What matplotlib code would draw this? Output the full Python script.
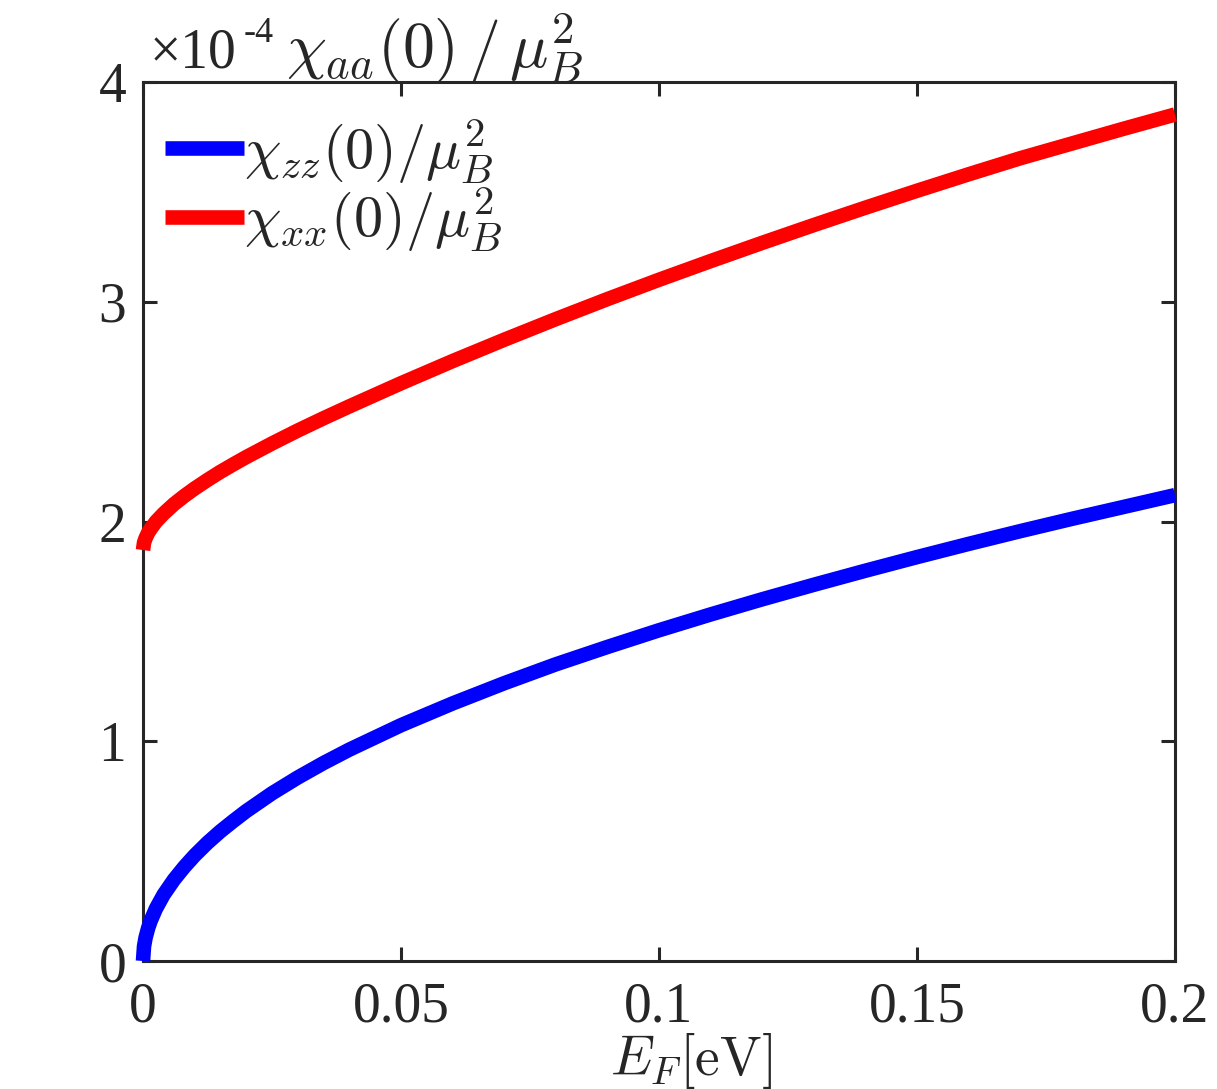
import numpy as np
import matplotlib
matplotlib.use('Agg')
from matplotlib import pyplot as plt

plt.rcParams['mathtext.fontset'] = 'cm'
plt.rcParams['font.family'] = ['Liberation Serif', 'DejaVu Serif']

# values, in units of 1e-4
ef = [0, 0.0002, 0.0005, 0.001, 0.0015, 0.0025, 0.004, 0.006, 0.008, 0.01,
      0.0125, 0.015, 0.0175, 0.02, 0.025, 0.03, 0.035, 0.04, 0.05, 0.06,
      0.07, 0.08, 0.09, 0.10, 0.11, 0.12, 0.13, 0.14, 0.15, 0.16, 0.17,
      0.18, 0.19, 0.20]
chi_zz = [0, 0.067, 0.106, 0.150, 0.184, 0.238, 0.302, 0.370, 0.428, 0.480,
          0.538, 0.590, 0.637, 0.682, 0.763, 0.835, 0.901, 0.962, 1.073, 1.172,
          1.264, 1.350, 1.429, 1.505, 1.577, 1.646, 1.712, 1.776, 1.838, 1.898,
          1.956, 2.012, 2.066, 2.120]
chi_xx = [1.87, 1.904, 1.924, 1.949, 1.967, 1.999, 2.036, 2.079, 2.116, 2.15,
          2.189, 2.226, 2.260, 2.293, 2.355, 2.414, 2.470, 2.524, 2.629, 2.730,
          2.827, 2.921, 3.012, 3.100, 3.185, 3.268, 3.349, 3.428, 3.505, 3.580,
          3.653, 3.720, 3.787, 3.852]

x_ticks = [0, 0.05, 0.1, 0.15, 0.2]
x_ticklabels = ['0', '0.05', '0.1', '0.15', '0.2']
y_ticks = [0, 1, 2, 3, 4]

W, H = 1217, 1089
fig = plt.figure(figsize=(W / 100, H / 100), dpi=100)
ax = fig.add_axes([143 / W, 1 - 961 / H, (1175 - 143) / W, (961 - 82) / H])

ax.plot(ef, chi_zz, color='#0000ff', lw=10.5, solid_capstyle='butt',
        label=r'$\chi_{zz}(0)/\mu_B^2$', clip_on=False, zorder=3)
ax.plot(ef, chi_xx, color='#ff0000', lw=10.5, solid_capstyle='butt',
        label=r'$\chi_{xx}(0)/\mu_B^2$', clip_on=False, zorder=3)

ax.set_xlim(0, 0.2)
ax.set_ylim(0, 4)
ax.set_xticks(x_ticks)
ax.set_xticklabels(x_ticklabels)
ax.set_yticks(y_ticks)

dark = '#262626'
for s in ax.spines.values():
    s.set_color(dark)
    s.set_linewidth(2.2)
ax.tick_params(direction='in', length=10, width=2.2, color=dark,
               labelsize=40, labelcolor=dark, top=True, right=True, pad=15)
ax.tick_params(axis='y', pad=12)

ax.set_xlabel(r'$E_F[\mathrm{eV}]$', fontsize=40, color=dark)
ax.xaxis.set_label_coords((691 - 143) / (1175 - 143), -0.08)

# exponent and quantity label above the axes
fig.text(150 / W, 1 - 68 / H, u'\u00d710', fontsize=40, color=dark,
         family='Liberation Serif', ha='left', va='baseline')
fig.text(244 / W, 1 - 42 / H, '-4', fontsize=26, color=dark,
         family='Liberation Serif', ha='left', va='baseline')
fig.text(286 / W, 1 - 68 / H, r'$\chi_{aa}(0)\,/\,\mu_B^2$', fontsize=46,
         color=dark, ha='left', va='baseline')

leg = ax.legend(loc='upper left', frameon=False, fontsize=42,
                handlelength=1.35, handletextpad=0.0, borderaxespad=0.2,
                labelspacing=0.0, bbox_to_anchor=(-0.0126, 1.0))
for t in leg.get_texts():
    t.set_color(dark)
for h in leg.get_lines():
    h.set_linewidth(10.5)

fig.savefig('out.png', dpi=100)
